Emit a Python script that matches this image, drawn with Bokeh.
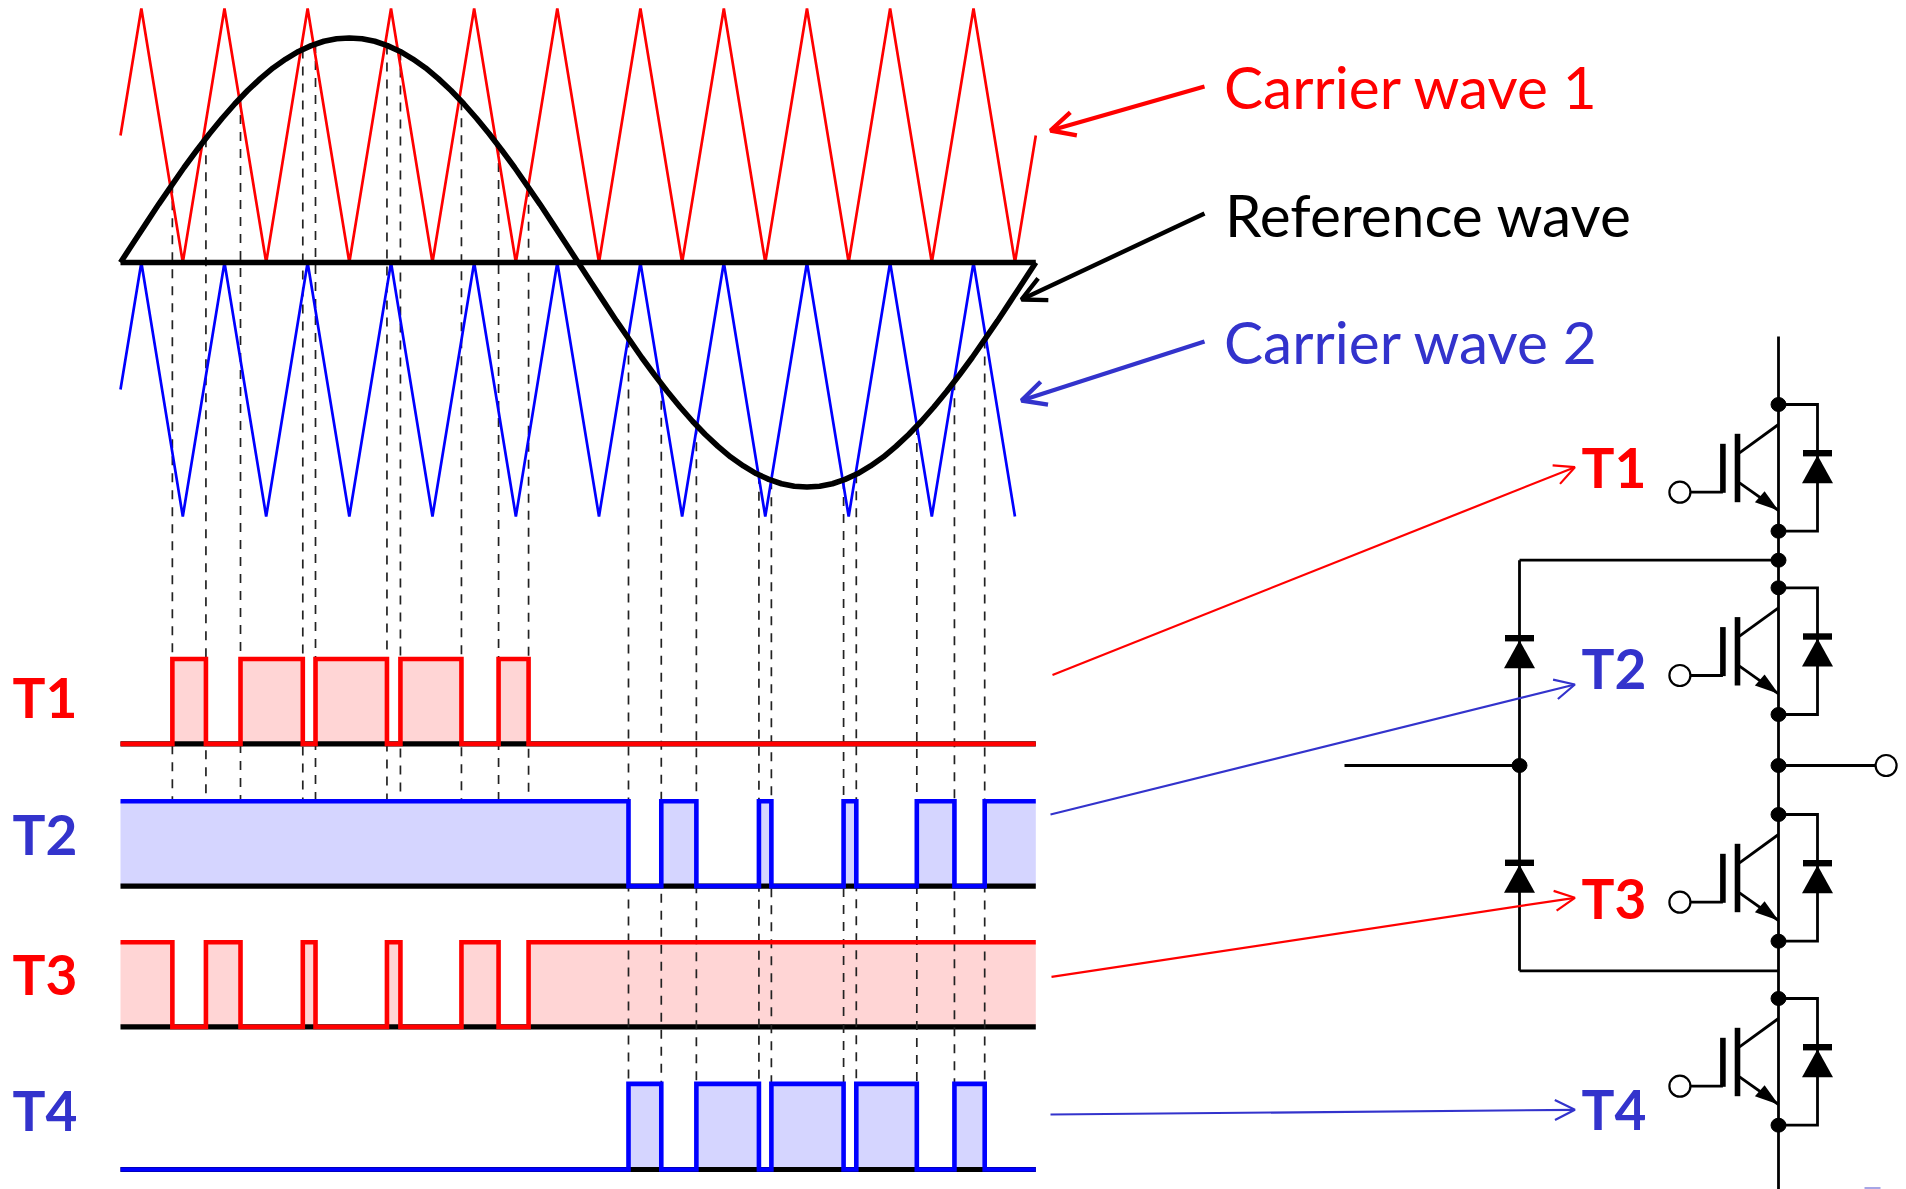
from bokeh.plotting import figure
from bokeh.embed import file_html
from bokeh.resources import INLINE
from bokeh.models import Range1d, Arrow, OpenHead
from bokeh.core.properties import value
import numpy as np

# ---------- data ----------
carrier1_time = [0, 8.2, 24.5, 40.9, 57.3, 73.6, 90, 106.4, 122.7, 139.1, 155.5, 171.8,
                 188.2, 204.5, 220.9, 237.3, 253.6, 270, 286.4, 302.7, 319.1, 335.5, 351.8, 360]
carrier1_vals = [0.5, 1, 0, 1, 0, 1, 0, 1, 0, 1, 0, 1, 0, 1, 0, 1, 0, 1, 0, 1, 0, 1, 0, 0.5]
carrier2_time = [0, 8.2, 24.5, 40.9, 57.3, 73.6, 90, 106.4, 122.7, 139.1, 155.5, 171.8,
                 188.2, 204.5, 220.9, 237.3, 253.6, 270, 286.4, 302.7, 319.1, 335.5, 351.8]
carrier2_vals = [-0.5, 0, -1, 0, -1, 0, -1, 0, -1, 0, -1, 0, -1, 0, -1, 0, -1, 0, -1, 0, -1, 0, -1]

ref_time = [0, 5, 10, 15, 20, 25, 30, 35, 40, 45, 50, 55, 60, 65, 70, 75, 80, 85, 90, 95, 100, 105, 110,
            115, 120, 125, 130, 135, 140, 145, 150, 155, 160, 165, 170, 175, 180,
            185, 190, 195, 200, 205, 210, 215, 220, 225, 230, 235, 240, 245, 250, 255, 260, 265, 270,
            275, 280, 285, 290, 295, 300, 305, 310, 315, 320, 325, 330, 335, 340, 345, 350, 355, 360]
ref_vals = [0, 0.077, 0.153, 0.229, 0.302, 0.374, 0.442, 0.507, 0.568, 0.625, 0.677, 0.724, 0.766, 0.801,
            0.831, 0.854, 0.871, 0.881, 0.884, 0.881, 0.871, 0.854, 0.831, 0.801, 0.766, 0.724, 0.677,
            0.625, 0.568, 0.507, 0.442, 0.374, 0.302, 0.229, 0.153, 0.077, 0,
            -0.077, -0.153, -0.229, -0.302, -0.374, -0.442, -0.507, -0.568, -0.625, -0.677, -0.724,
            -0.766, -0.801, -0.831, -0.854, -0.871, -0.881, -0.884, -0.881, -0.871, -0.854, -0.831,
            -0.801, -0.766, -0.724, -0.677, -0.625, -0.568, -0.507, -0.442, -0.374, -0.302, -0.229,
            -0.153, -0.077, 0]

pos_edges = [20.4, 33.6, 47.2, 71.7, 76.7, 104.8, 110.1, 134.1, 148.7, 160.5]
neg_edges = [199.8, 212.7, 226.5, 251.1, 256.0, 284.4, 289.4, 313.2, 328.0, 339.9]

T1_states = [0, 1, 0, 1, 0, 1, 0, 1, 0, 1, 0]
T2_states = [1, 0, 1, 0, 1, 0, 1, 0, 1, 0, 1]
T3_states = [1, 0, 1, 0, 1, 0, 1, 0, 1, 0, 1]
T4_states = [0, 1, 0, 1, 0, 1, 0, 1, 0, 1, 0]

switch_labels = ["T1", "T2", "T3", "T4"]
wave_labels = ["Carrier wave 1", "Reference wave", "Carrier wave 2"]

# ---------- style ----------
RED = "#ff0000"
BLUE = "#0000ff"
TXT_BLUE = "#3333cc"
PINK = "#ffd5d5"
LILAC = "#d5d5ff"
FONT = value("Lato")
TEXT_SHIFT = 22

W, H = 1900, 1189
X0, Y0 = 0, 0
p = figure(width=W, height=H, output_backend="svg", toolbar_location=None,
           x_range=Range1d(X0, X0 + W), y_range=Range1d(Y0 + H, Y0),
           x_axis_location=None, y_axis_location=None, min_border=0,
           background_fill_color="white", outline_line_color=None)
p.grid.visible = False


def panel_range(y_zero, y_one):
    return Range1d((y_zero - (Y0 + H)) / (y_zero - y_one), (y_zero - Y0) / (y_zero - y_one))


T_PX0, T_SCALE = 120.0, 915.3 / 360
p.extra_x_ranges["time"] = Range1d((X0 - T_PX0) / T_SCALE, (X0 + W - T_PX0) / T_SCALE)
WAVE_ZERO, WAVE_SCALE = 262.0, 254.0
p.extra_y_ranges["wave"] = panel_range(WAVE_ZERO, WAVE_ZERO - WAVE_SCALE)
panels = {"T1": (743.4, 658.5), "T2": (885.6, 800.7), "T3": (1026.4, 941.8), "T4": (1169.0, 1083.4)}
for k, (a, b) in panels.items():
    p.extra_y_ranges[k] = panel_range(a, b)


def wave_of_px(y):
    return (WAVE_ZERO - y) / WAVE_SCALE


def steps(edges, states):
    full = [0] + list(edges) + [360]
    xs, ys = [], []
    for i, s in enumerate(states):
        xs += [full[i], full[i + 1]]
        ys += [s, s]
    return xs, ys


# ---------- pulse fills ----------
series = [("T1", pos_edges, T1_states, PINK, RED),
          ("T2", neg_edges, T2_states, LILAC, BLUE),
          ("T3", pos_edges, T3_states, PINK, RED),
          ("T4", neg_edges, T4_states, LILAC, BLUE)]
for name, edges, states, fill, line in series:
    xs, ys = steps(edges, states)
    p.varea(xs, [0] * len(xs), ys, fill_color=fill, x_range_name="time", y_range_name=name)
    p.line([0, 360], [0, 0], line_color="black", line_width=5.2, x_range_name="time", y_range_name=name)

# ---------- dashed projection lines ----------
for edges, end_px in ((pos_edges, 800.7), (neg_edges, 1083.4)):
    starts = np.interp(edges, ref_time, ref_vals)
    p.segment(edges, starts, edges, [wave_of_px(end_px)] * len(edges),
              line_color="#222222", line_width=1.7, line_dash="9 8",
              x_range_name="time", y_range_name="wave")

# ---------- pulse outlines ----------
for name, edges, states, fill, line in series:
    xs, ys = steps(edges, states)
    p.line(xs, ys, line_color=line, line_width=4.6, line_join="miter",
           x_range_name="time", y_range_name=name)

# ---------- waves ----------
p.line(carrier1_time, carrier1_vals, line_color=RED, line_width=2.7, x_range_name="time", y_range_name="wave")
p.line(carrier2_time, carrier2_vals, line_color=BLUE, line_width=2.7, x_range_name="time", y_range_name="wave")
p.line(ref_time, ref_vals, line_color="black", line_width=5.6, x_range_name="time", y_range_name="wave")
p.line([0, 360], [0, 0], line_color="black", line_width=5.6, x_range_name="time", y_range_name="wave")


def arrow(x1, y1, x2, y2, color, lw, size):
    p.add_layout(Arrow(end=OpenHead(size=size, line_color=color, line_width=lw), line_color=color, line_width=lw,
                       x_start=x1, y_start=y1, x_end=x2, y_end=y2))


# ---------- wave labels ----------
label_rows = [(1223.5, 107, RED, 1204, 86, 1050, 130), (1224.5, 235, "black", 1204, 213, 1021, 299),
              (1223.5, 362, TXT_BLUE, 1204, 341, 1021, 400)]
for lab, (x, y, c, ax, ay, bx, by) in zip(wave_labels, label_rows):
    p.text([x], [y - TEXT_SHIFT], text=[lab], text_color=c, text_font=FONT, text_font_size="58.5px",
           text_baseline="alphabetic", text_align="left")
    arrow(ax, ay, bx, by, c, 4.4, 24)

# ---------- switch labels ----------
left_rows = [718, 855, 995, 1131.5]
right_rows = [488, 689, 919, 1130]
starts = [(1052, 674.4, 466.7), (1050, 814, 684), (1051, 976.3, 897.3), (1050, 1114, 1109.3)]
colors = [RED, TXT_BLUE, RED, TXT_BLUE]
for lab, yl, yr, c, (sx, sy, ey) in zip(switch_labels, left_rows, right_rows, colors, starts):
    for x, y in ((12, yl), (1581, yr)):
        p.text([x], [y - TEXT_SHIFT], text=[lab], text_color=c, text_font=FONT, text_font_size="55px",
               text_font_style="bold", text_baseline="alphabetic", text_align="left")
    arrow(sx, sy, 1574.4, ey, c, 2.2, 20)

# ---------- circuit ----------
BX = 1778.0
LX = 1519.0
WL = 2.8
OFFSETS = [404, 587.3, 814, 998]


def polyline(xs, ys, lw=WL):
    p.line(xs, ys, line_color="black", line_width=lw, line_join="miter")


def dot(x, y):
    p.ellipse([x], [y], width=15, height=14, fill_color="black", line_color="black", line_width=1)


def diode(x, y_bar):
    p.quad(left=[x - 14.5], right=[x + 14.5], top=[y_bar - 3.2], bottom=[y_bar + 3.2], fill_color="black", line_color=None)
    p.patch([x, x - 15.5, x + 15.5], [y_bar + 2, y_bar + 30, y_bar + 30], fill_color="black", line_color=None)


polyline([BX, BX], [336, 1189])
polyline([LX, BX], [559.7, 559.7])
polyline([LX, BX], [970.3, 970.3])
polyline([LX, LX], [559.7, 970.3])
polyline([1344, LX], [765, 765])
polyline([BX, BX + 98], [765, 765])
for x, y in ((BX, 559.7), (BX, 765), (LX, 765)):
    dot(x, y)
p.circle([1885.6], [765], radius=10.5, fill_color="white", line_color="black", line_width=2.2)
diode(LX, 637.7)
diode(LX, 862.3)

for y0 in OFFSETS:
    dot(BX, y0)
    dot(BX, y0 + 126.7)
    polyline([BX, BX + 39, BX + 39, BX], [y0, y0, y0 + 126.7, y0 + 126.7])
    diode(BX + 39, y0 + 48.7)
    polyline([BX, BX - 39], [y0 + 20, y0 + 48.3])
    polyline([BX - 39, BX], [y0 + 78.3, y0 + 106])
    p.patch([BX, BX - 23.6, BX - 13.9], [y0 + 106, y0 + 97.7, y0 + 86.7], fill_color="black", line_color=None)
    polyline([BX - 41, BX - 41], [y0 + 29.3, y0 + 97.7], 5.6)
    polyline([BX - 55.6, BX - 55.6], [y0 + 39.3, y0 + 88.3], 5.6)
    polyline([BX - 55.6, BX - 88.5], [y0 + 87.7, y0 + 87.7])
    p.circle([BX - 98.6], [y0 + 87.7], radius=10.5, fill_color="white", line_color="black", line_width=2.2)

p.quad(left=[1864], right=[1880], top=[1186.5], bottom=[1189], fill_color="#a6a6e6", line_color=None)

open("out.html", "w").write(file_html(p, INLINE))
